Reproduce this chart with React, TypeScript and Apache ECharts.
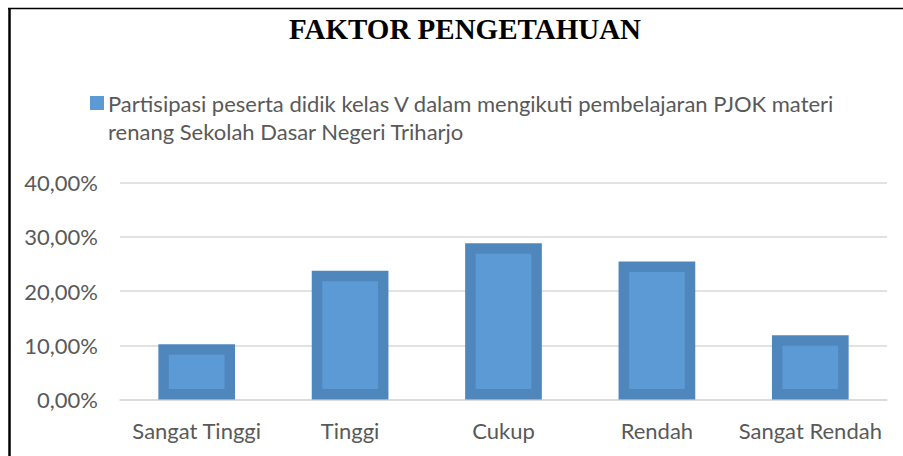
import React, { useEffect, useRef } from "react";
import * as echarts from "echarts";

const titleText = "FAKTOR PENGETAHUAN";
const seriesName =
  "Partisipasi peserta didik kelas V dalam mengikuti pembelajaran PJOK materi\nrenang Sekolah Dasar Negeri Triharjo";
const categories = ["Sangat Tinggi", "Tinggi", "Cukup", "Rendah", "Sangat Rendah"];
const values = [10.17, 23.73, 28.81, 25.42, 11.86];
const yMin = 0;
const yMax = 40;
const yInterval = 10;

const OUTER = "#4F87BD";
const INNER = "#5B9AD5";
const TEXT = "#595959";
const FONT = "Lato, 'Liberation Sans', sans-serif";

export default function App() {
  const ref = useRef<HTMLDivElement>(null);
  useEffect(() => {
    document.body.style.margin = "0";
    const chart = echarts.init(ref.current!, null, { renderer: "svg" });
    const border = 10.5;
    chart.setOption({
      animation: false,
      backgroundColor: "#ffffff",
      grid: { left: 120, right: 16, top: 182.5, bottom: 56.5, containLabel: false },
      xAxis: {
        type: "category",
        data: categories,
        axisLine: { show: true, lineStyle: { color: "#D9D9D9", width: 1.5 } },
        axisTick: { show: false },
        axisLabel: { color: TEXT, fontSize: 22, fontFamily: FONT, margin: 20, interval: 0 },
      },
      yAxis: {
        type: "value",
        min: yMin,
        max: yMax,
        interval: yInterval,
        axisLine: { show: false },
        axisTick: { show: false },
        splitLine: { lineStyle: { color: "#D9D9D9", width: 1.5 } },
        axisLabel: {
          color: TEXT,
          fontSize: 22,
          fontFamily: FONT,
          margin: 22,
          formatter: (v: number) => v.toFixed(2).replace(".", ",") + "%",
        },
      },
      series: [
        {
          type: "custom",
          name: seriesName,
          data: values.map((v, i) => [i, v]),
          encode: { x: 0, y: 1 },
          renderItem: (params: any, api: any) => {
            const idx = api.value(0);
            const v = api.value(1);
            const top = api.coord([idx, v]);
            const base = api.coord([idx, 0]);
            const bw = api.size([1, 0])[0] * 0.5;
            const x = top[0] - bw / 2;
            const h = base[1] - top[1];
            return {
              type: "group",
              children: [
                { type: "rect", shape: { x, y: top[1], width: bw, height: h }, style: { fill: OUTER } },
                {
                  type: "rect",
                  shape: {
                    x: x + border,
                    y: top[1] + border,
                    width: bw - 2 * border,
                    height: Math.max(0, h - 2 * border),
                  },
                  style: { fill: INNER },
                },
              ],
            };
          },
        },
      ],
      graphic: [
        {
          type: "line",
          shape: { x1: 9.5, y1: 8, x2: 9.5, y2: 456 },
          style: { stroke: "#000", lineWidth: 2.5 },
        },
        {
          type: "line",
          shape: { x1: 8, y1: 8.5, x2: 903, y2: 8.5 },
          style: { stroke: "#000", lineWidth: 1.5 },
        },
        {
          type: "text",
          x: 465,
          y: 29,
          style: {
            text: titleText,
            fill: "#000",
            font: "bold 29px 'Liberation Serif', 'Times New Roman', serif",
            textAlign: "center",
            textVerticalAlign: "middle",
          },
        },
        {
          type: "rect",
          shape: { x: 90, y: 96, width: 14, height: 14 },
          style: { fill: INNER },
        },
        {
          type: "text",
          x: 108,
          y: 89,
          style: {
            text: seriesName,
            fill: TEXT,
            fontSize: 22,
            fontFamily: FONT,
            lineHeight: 28,
            textAlign: "left",
            textVerticalAlign: "top",
          },
        },
      ],
    });
    return () => chart.dispose();
  }, []);
  return <div ref={ref} style={{ width: 903, height: 456 }} />;
}
